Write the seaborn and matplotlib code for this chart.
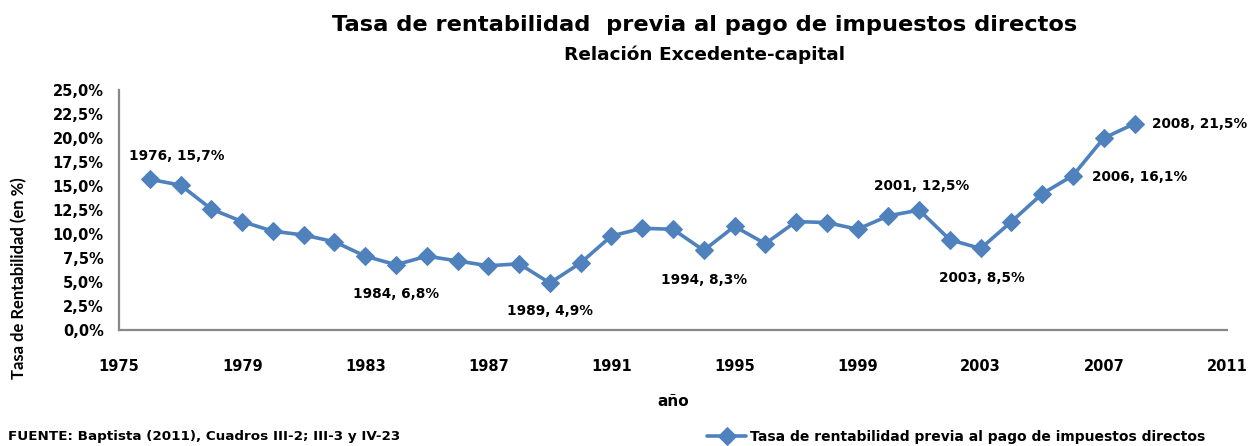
import matplotlib
matplotlib.use("Agg")
import matplotlib.pyplot as plt
import seaborn as sns
import pandas as pd
from matplotlib.ticker import FuncFormatter, MultipleLocator

# Data
years = list(range(1976, 2009))
tasa = [15.7, 15.1, 12.6, 11.3, 10.3, 9.9, 9.2, 7.7, 6.8, 7.7,
        7.2, 6.7, 6.9, 4.9, 7.0, 9.8, 10.6, 10.5, 8.3, 10.8,
        9.0, 11.3, 11.2, 10.5, 11.9, 12.5, 9.4, 8.5, 11.3, 14.2,
        16.1, 20.0, 21.5]
labelled_years = [1976, 1984, 1989, 1994, 2001, 2003, 2006, 2008]
x_ticks = list(range(1975, 2012, 4))

df = pd.DataFrame({'año': years, 'tasa': tasa})
serie = 'Tasa de rentabilidad previa al pago de impuestos directos'

sns.set_theme(style="white")
plt.rcParams['font.family'] = ['DejaVu Sans']
plt.rcParams['font.weight'] = 'bold'
for k in ['text.color', 'axes.labelcolor', 'xtick.color', 'ytick.color']:
    plt.rcParams[k] = 'black'

fig = plt.figure(figsize=(12.56, 4.46), dpi=100)
ax = fig.add_axes([0.0948, 0.26, 0.882, 0.538])

blue = '#4F81BD'
sns.lineplot(data=df, x='año', y='tasa', ax=ax, color=blue, linewidth=2.6,
             marker='D', markersize=9, markeredgecolor=blue, label=serie)

ax.set_xlim(1975, 2011)
ax.set_ylim(0, 25)
ax.set_xticks(x_ticks)
ax.yaxis.set_major_locator(MultipleLocator(2.5))
ax.yaxis.set_major_formatter(FuncFormatter(lambda v, p: f"{v:.1f}%".replace('.', ',')))
ax.tick_params(axis='both', labelsize=10.5, length=0)
for lab in ax.get_xticklabels() + ax.get_yticklabels():
    lab.set_fontweight('bold')
ax.tick_params(axis='y', pad=11)
ax.tick_params(axis='x', pad=21)

for s in ['top', 'right']:
    ax.spines[s].set_visible(False)
for s in ['left', 'bottom']:
    ax.spines[s].set_color('#888888')
    ax.spines[s].set_linewidth(1.6)

ax.set_xlabel('año', fontsize=11, fontweight='bold', labelpad=14)
ax.set_ylabel('')
fig.text(0.015, 0.376, 'Tasa de Rentabilidad (en %)', rotation=90, fontsize=12,
         family=['Lato', 'DejaVu Sans'], fontweight='bold', ha='center', va='center')

# data labels (offsets in points)
offsets = {1976: (19, 17), 1984: (0, -21), 1989: (0, -20), 1994: (0, -21),
           2001: (2, 17), 2003: (1, -21), 2006: (48, -1), 2008: (47, 0)}
for yr in labelled_years:
    v = tasa[years.index(yr)]
    txt = f"{yr}, {v:.1f}%".replace('.', ',')
    ax.annotate(txt, (yr, v), xytext=offsets[yr], textcoords='offset points',
                ha='center', va='center', fontsize=9.8, fontweight='bold')

fig.text(0.561, 0.943, 'Tasa de rentabilidad  previa al pago de impuestos directos',
         ha='center', va='center', fontsize=16.2, fontweight='bold')
fig.text(0.561, 0.877, 'Relación Excedente-capital', ha='center', va='center',
         fontsize=13.3, fontweight='bold')
fig.text(0.006, 0.022, 'FUENTE: Baptista (2011), Cuadros III-2; III-3 y IV-23',
         ha='left', va='center', fontsize=9.7, fontweight='bold')

leg = ax.legend(loc='center left', bbox_to_anchor=(0.553, 0.02),
                bbox_transform=fig.transFigure, frameon=False,
                prop={'weight': 'bold', 'size': 10}, handlelength=2.8,
                handletextpad=0.3)

fig.savefig('out.png', dpi=100)
